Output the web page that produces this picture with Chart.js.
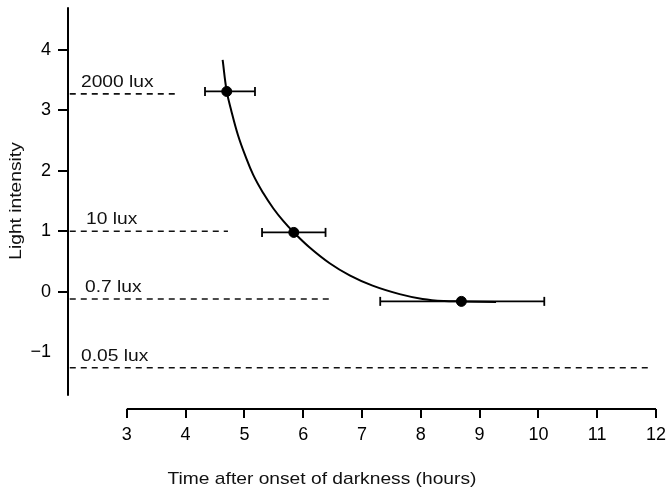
<!DOCTYPE html>
<html><head><meta charset="utf-8">
<script src="https://cdn.jsdelivr.net/npm/chart.js@4.4.0/dist/chart.umd.min.js"></script>
<style>html,body{margin:0;padding:0;background:#fff;} #wrap{width:670px;height:489px;position:relative;}</style>
</head><body><div id="wrap"><canvas id="c" width="670" height="489"></canvas></div>
<script>
// ---- data ----
const xTicks = [3, 4, 5, 6, 7, 8, 9, 10, 11, 12];
const yTicks = [-1, 0, 1, 2, 3, 4];
const xAxisSpan = [3, 12];
const yAxisSpan = [-1.72, 4.7];
const luxLabels = ['2000 lux', '10 lux', '0.7 lux', '0.05 lux'];
const luxLevels = [3.27, 1.0, -0.12, -1.256];
const luxStart = [2.03, 2.03, 2.03, 2.03];
const luxEnd = [3.88, 4.72, 6.45, 11.93];
const pointX = [4.70, 5.84, 8.69];
const pointY = [3.31, 0.98, -0.16];
const errLow = [4.33, 5.30, 7.31];
const errHigh = [5.18, 6.38, 10.10];
const curveX = [4.63, 4.70, 4.78, 4.89, 5.01, 5.15, 5.32, 5.49, 5.66, 5.84, 6.11, 6.45, 6.79, 7.18, 7.64, 8.03, 8.40, 8.70, 9.28];
const curveY = [3.83, 3.31, 2.98, 2.59, 2.26, 1.93, 1.63, 1.38, 1.17, 0.98, 0.73, 0.47, 0.27, 0.10, -0.04, -0.12, -0.155, -0.16, -0.17];
const xTitle = 'Time after onset of darkness (hours)';
const yTitle = 'Light intensity';

// ---- build datasets ----
const FONT = '"Liberation Sans", Arial, Helvetica, sans-serif';
const datasets = [];
luxLevels.forEach((lv, i) => {
  datasets.push({
    data: [{x: luxStart[i], y: lv}, {x: luxEnd[i], y: lv}],
    showLine: true, borderColor: '#111', borderWidth: 1.6, borderDash: [6, 5],
    pointRadius: 0, fill: false
  });
});
datasets.push({
  data: curveX.map((x, i) => ({x, y: curveY[i]})),
  showLine: true, borderColor: '#000', borderWidth: 2, pointRadius: 0,
  tension: 0.4, fill: false
});
pointX.forEach((px, i) => {
  datasets.push({
    data: [{x: errLow[i], y: pointY[i]}, {x: errHigh[i], y: pointY[i]}],
    showLine: true, borderColor: '#000', borderWidth: 1.8,
    pointStyle: 'line', rotation: 90, pointRadius: 4.5, pointBorderWidth: 1.8,
    pointBorderColor: '#000', fill: false
  });
});
datasets.push({
  data: pointX.map((x, i) => ({x, y: pointY[i]})),
  showLine: false, pointRadius: 5, pointBackgroundColor: '#000', pointBorderColor: '#000'
});

function stretchText(ctx, text, x, y, align, sx, rot) {
  ctx.save();
  ctx.translate(x, y);
  if (rot) ctx.rotate(rot);
  ctx.scale(sx, 1);
  ctx.textAlign = align;
  ctx.textBaseline = 'alphabetic';
  ctx.fillText(text, 0, 0);
  ctx.restore();
}

const decor = {
  id: 'decor',
  afterDraw(chart) {
    const ctx = chart.ctx, xs = chart.scales.x, ys = chart.scales.y;
    ctx.save();
    ctx.strokeStyle = '#000';
    ctx.lineWidth = 2;
    // y axis line
    const ax = xs.getPixelForValue(xs.min);
    ctx.beginPath();
    ctx.moveTo(ax, ys.getPixelForValue(yAxisSpan[1]));
    ctx.lineTo(ax, ys.getPixelForValue(yAxisSpan[0]));
    ctx.stroke();
    // x axis line
    const by = chart.chartArea.bottom;
    ctx.beginPath();
    ctx.moveTo(xs.getPixelForValue(xAxisSpan[0]), by);
    ctx.lineTo(xs.getPixelForValue(xAxisSpan[1]), by);
    ctx.stroke();
    // texts
    ctx.fillStyle = '#111';
    ctx.font = '17px ' + FONT;
    const labelOffsets = [13, 18, 17, 13];
    luxLabels.forEach((t, i) => {
      stretchText(ctx, t, ax + labelOffsets[i], ys.getPixelForValue(luxLevels[i]) - 7, 'left', 1.13);
    });
    stretchText(ctx, xTitle, 322, 484, 'center', 1.13);
    stretchText(ctx, yTitle, 21, 201, 'center', 1.13, -Math.PI / 2);
    ctx.restore();
  }
};

new Chart(document.getElementById('c'), {
  type: 'scatter',
  data: {datasets},
  plugins: [decor],
  options: {
    responsive: false,
    animation: false,
    layout: {padding: {top: 7, right: 14, left: 0, bottom: 0}},
    plugins: {legend: {display: false}, tooltip: {enabled: false}},
    scales: {
      x: {
        type: 'linear', min: 2, max: 12,
        afterBuildTicks: s => { s.ticks = xTicks.map(v => ({value: v})); },
        afterFit: s => { s.height = 80; s.paddingLeft = 0; s.paddingRight = 0; },
        border: {display: false},
        grid: {drawOnChartArea: false, drawTicks: true, tickLength: 9, color: '#000', lineWidth: 2},
        ticks: {color: '#000', padding: 6, font: {family: FONT, size: 18}, maxRotation: 0, autoSkip: false}
      },
      y: {
        type: 'linear', min: -1.939, max: 4.706,
        afterBuildTicks: s => { s.ticks = yTicks.map(v => ({value: v})); },
        afterFit: s => { s.width = 68; s.paddingTop = 0; s.paddingBottom = 0; },
        border: {display: false},
        grid: {drawOnChartArea: false, drawTicks: true, tickLength: 10, lineWidth: 2,
               color: c => (c.tick && c.tick.value === -1) ? 'rgba(0,0,0,0)' : '#000'},
        ticks: {color: '#000', padding: 7, font: {family: FONT, size: 18}, autoSkip: false,
                callback: v => v < 0 ? '\u2212' + Math.abs(v) : String(v)}
      }
    }
  }
});
</script></body></html>
